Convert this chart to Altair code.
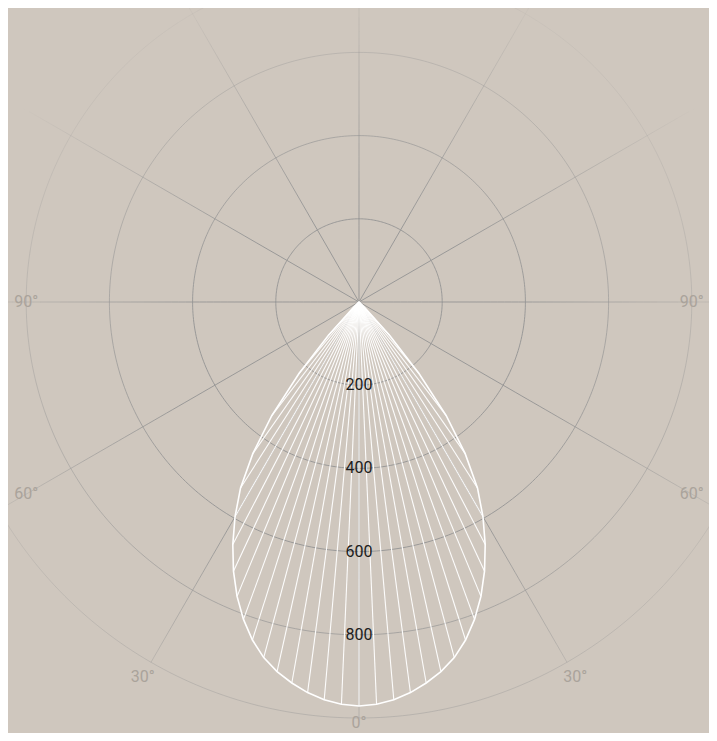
import altair as alt
import pandas as pd
import numpy as np

# ---- data ----
gamma_deg = [0, 2.5, 5, 7.5, 10, 12.5, 15, 17.5, 20, 22.5, 25, 27.5, 30,
             32.5, 35, 37.5, 40, 42.5, 45]
intensity_cd = [971, 968, 960, 947, 930, 910, 885, 852, 812, 766, 714, 657,
                596, 530, 445, 345, 225, 110, 20]
ring_values = [200, 400, 600, 800, 1000]
ring_labels = ["200", "400", "600", "800"]
spoke_angles = list(range(0, 360, 30))
angle_label_values = [0, 30, 60, 90]

# ---- geometry helpers ----
W, H = 701, 725          # drawing area (page has an 8px margin)
CX, CY = 351, 294        # pole position inside the drawing
PX = 0.416               # pixels per cd
xdom = [-CX / PX, (W - CX) / PX]
ydom = [-(H - CY) / PX, CY / PX]
BG = "#cfc7be"


def polar(r, a_deg):
    a = np.radians(a_deg)
    return r * np.sin(a), -r * np.cos(a)


def fade(x, y):
    px = np.asarray(x) * PX
    py = -np.asarray(y) * PX
    d = np.hypot(px, py - 90)
    return np.clip((440 - d) / 260, 0, 1) * 0.9


xs = alt.Scale(domain=xdom, nice=False, zero=False)
ys = alt.Scale(domain=ydom, nice=False, zero=False)

# ---- grid segments ----
seg = []
for v in ring_values:
    a = np.arange(0, 361, 1.0)
    x, y = polar(v, a)
    for i in range(len(a) - 1):
        seg.append((x[i], y[i], x[i + 1], y[i + 1]))
for s in spoke_angles:
    r = np.linspace(0, 1000, 61)
    x, y = polar(r, s)
    for i in range(len(r) - 1):
        seg.append((x[i], y[i], x[i + 1], y[i + 1]))
grid = pd.DataFrame(seg, columns=["x", "y", "x2", "y2"])
grid["op"] = fade((grid.x + grid.x2) / 2, (grid.y + grid.y2) / 2)

grid_layer = alt.Chart(grid).mark_rule(color="#949494", strokeWidth=1).encode(
    x=alt.X("x:Q", scale=xs, axis=None),
    y=alt.Y("y:Q", scale=ys, axis=None),
    x2="x2:Q", y2="y2:Q",
    opacity=alt.Opacity("op:Q", scale=None),
)

# ---- intensity curve ----
g_full = [-g for g in gamma_deg[::-1]] + gamma_deg[1:]
i_full = intensity_cd[::-1] + intensity_cd[1:]
curve = pd.DataFrame({"g": g_full, "i": i_full})
curve["x"], curve["y"] = polar(curve["i"].to_numpy(), curve["g"].to_numpy())
curve["o"] = range(len(curve))
closed = pd.concat([
    pd.DataFrame({"x": [0.0], "y": [0.0], "o": [-1]}),
    curve[["x", "y", "o"]],
    pd.DataFrame({"x": [0.0], "y": [0.0], "o": [len(curve)]}),
])
curve["x0"] = 0.0
curve["y0"] = 0.0

rays = alt.Chart(curve).mark_rule(color="white", strokeWidth=1.1, opacity=0.95).encode(
    x=alt.X("x0:Q", scale=xs, axis=None),
    y=alt.Y("y0:Q", scale=ys, axis=None),
    x2="x:Q", y2="y:Q",
)
outline = alt.Chart(closed).mark_line(color="white", strokeWidth=1.6).encode(
    x=alt.X("x:Q", scale=xs, axis=None),
    y=alt.Y("y:Q", scale=ys, axis=None),
    order="o:Q",
)

# ---- ring labels ----
rl = pd.DataFrame({"t": ring_labels, "x": 0.0,
                   "y": [-v for v in ring_values[:len(ring_labels)]]})
ring_text = alt.Chart(rl).mark_text(font="Roboto", fontSize=16, color="#1c1c1c",
                                    baseline="middle", align="center").encode(
    x=alt.X("x:Q", scale=xs, axis=None),
    y=alt.Y("y:Q", scale=ys, axis=None),
    text="t:N",
)

# ---- angle labels ----
rows = []
for a in angle_label_values:
    for side in ([1] if a == 0 else [-1, 1]):
        x, y = polar(1040, a)
        if abs(x) > 800:
            y = -800 / np.tan(np.radians(a))
            x = 800.0
        x = side * x
        y = max(y, -1012)
        rows.append({"t": f"{a}°", "x": x, "y": y})
al = pd.DataFrame(rows)
angle_text = alt.Chart(al).mark_text(font="Roboto", fontSize=16, color="#aaa39b",
                                     baseline="middle", align="center").encode(
    x=alt.X("x:Q", scale=xs, axis=None),
    y=alt.Y("y:Q", scale=ys, axis=None),
    text="t:N",
)

chart = alt.layer(grid_layer, rays, outline, ring_text, angle_text).properties(
    width=W, height=H,
    padding=0,
    autosize=alt.AutoSizeParams(type="none"),
    background=BG,
).configure_view(stroke=None)

chart.save("out.html", embed_options={"renderer": "svg", "actions": False})
